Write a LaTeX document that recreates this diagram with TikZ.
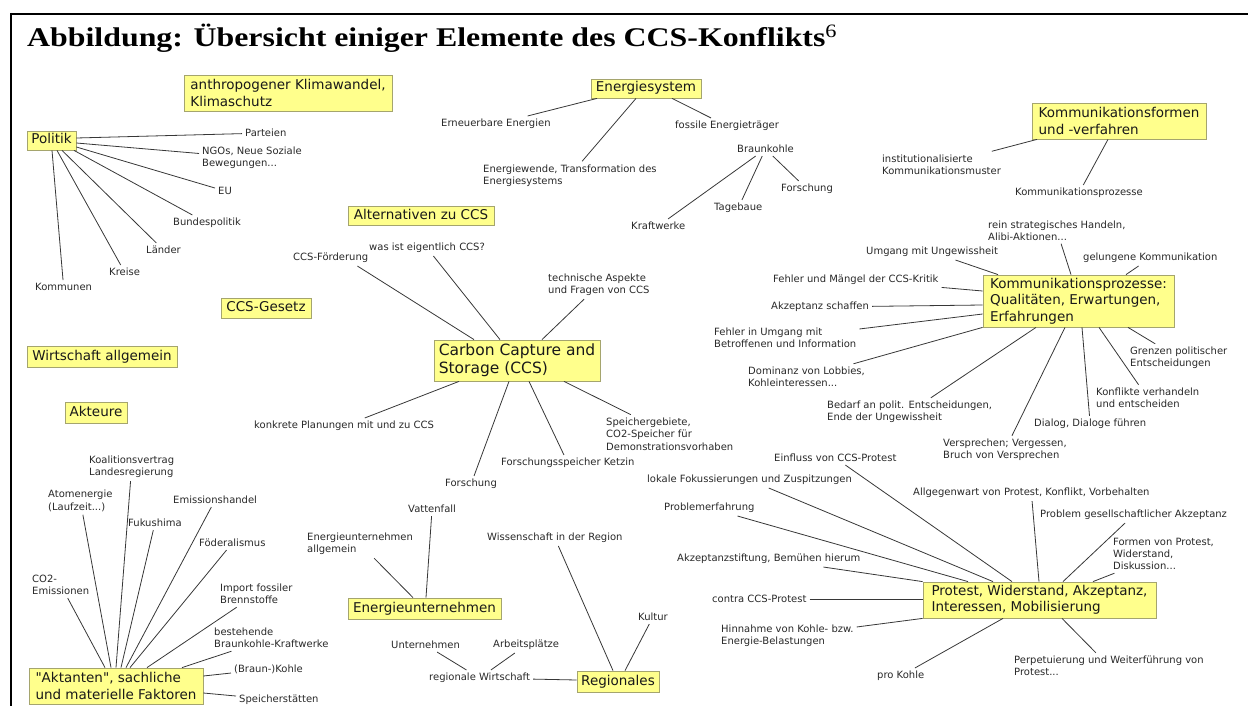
\documentclass[tikz,border=0pt]{standalone}
\usepackage{fontspec}
\setmainfont{Liberation Serif}
\newfontfamily\dvs{DejaVu Sans}
\definecolor{boxfill}{RGB}{255,255,140}
\definecolor{boxline}{RGB}{165,165,110}
\definecolor{ink}{RGB}{40,40,40}
\definecolor{wire}{RGB}{55,55,55}
\tikzset{
 box/.style={draw=boxline, line width=0.8pt, fill=boxfill, inner xsep=2pt, inner ysep=1pt, align=left, text=black!90, font=\dvs\fontsize{13.5}{16.5}\selectfont},
 sbox/.style={box, text height=10pt, text depth=3pt},
 lbl/.style={anchor=west, inner sep=3pt, align=left, text=ink, font=\dvs\fontsize{10}{12.3}\selectfont},
 conn/.style={draw=wire, line width=0.8pt},
 frame/.style={draw=black},
}
\begin{document}
\begin{tikzpicture}[x=1pt,y=-1pt]
\useasboundingbox (0,0) rectangle (1248,706);
% frame
\draw[frame, line width=2.5pt] (11,14) -- (1248,14);
\draw[frame, line width=2pt] (11,12.8) -- (11,706);
% title
\node[anchor=base west, inner sep=0] (title) at (27,47) {\scalebox{1.18}[1]{\fontsize{27}{31}\selectfont\bfseries Abbildung: Übersicht einiger Elemente des CCS-Konflikts\textsuperscript{\normalfont 6}}};

% boxes
\node[box, minimum width=208pt, minimum height=36pt] (klima) at (288,93) {anthropogener Klimawandel,\\Klimaschutz};
\node[sbox, minimum width=49pt, minimum height=19pt] (politik) at (51.5,140.5) {Politik};
\node[sbox, minimum width=110pt, minimum height=19pt] (energie) at (646,88.5) {Energiesystem};
\node[box, minimum width=174pt, minimum height=36pt] (kform) at (1119,121) {Kommunikationsformen\\und -verfahren};
\node[sbox, minimum width=146pt, minimum height=19pt] (altern) at (421,215.5) {Alternativen zu CCS};
\node[sbox, minimum width=90pt, minimum height=20pt] (gesetz) at (266,308) {CCS-Gesetz};
\node[sbox, minimum width=150pt, minimum height=21pt] (wirtsch) at (102,356.5) {Wirtschaft allgemein};
\node[sbox, minimum width=62pt, minimum height=21pt] (akteure) at (96,412.5) {Akteure};
\node[box, minimum width=166pt, minimum height=41pt, font=\dvs\fontsize{15.5}{18}\selectfont] (ccs) at (517,360.5) {Carbon Capture and\\Storage (CCS)};
\node[box, minimum width=191pt, minimum height=52pt] (kproz) at (1078.5,301) {Kommunikationsprozesse:\\Qualitäten, Erwartungen,\\Erfahrungen};
\node[sbox, minimum width=153pt, minimum height=21pt] (eunt) at (424.5,608.5) {Energieunternehmen};
\node[sbox, minimum width=82pt, minimum height=21pt] (reg) at (618,681.5) {Regionales};
\node[box, minimum width=233pt, minimum height=36pt] (protest) at (1039.5,600) {Protest, Widerstand, Akzeptanz,\\Interessen, Mobilisierung};
\node[box, minimum width=174pt, minimum height=36pt] (akt) at (116,686) {"Aktanten", sachliche\\und materielle Faktoren};

% labels: Politik
\node[lbl] (parteien) at (242,133) {Parteien};
\node[lbl] (ngos) at (199,158) {NGOs, Neue Soziale\\Bewegungen...};
\node[lbl] (eu) at (215,191) {EU};
\node[lbl] (bundes) at (170,223) {Bundespolitik};
\node[lbl] (laender) at (143,250) {Länder};
\node[lbl] (kreise) at (106,272) {Kreise};
\node[lbl] (kommunen) at (32,287) {Kommunen};
% Energiesystem
\node[lbl] (erneuerbar) at (438,124) {Erneuerbare Energien};
\node[lbl] (wende) at (480,175.5) {Energiewende, Transformation des\\Energiesystems};
\node[lbl] (fossile) at (672,126) {fossile Energieträger};
\node[lbl] (braunkohle) at (734,149) {Braunkohle};
\node[lbl] (forschbk) at (778,189) {Forschung};
\node[lbl] (tagebaue) at (711,208) {Tagebaue};
\node[lbl] (kraftwerke) at (628,226) {Kraftwerke};
% CCS
\node[lbl] (ccsfoerd) at (290,258) {CCS-Förderung};
\node[lbl] (wasist) at (366,248) {was ist eigentlich CCS?};
\node[lbl] (technisch) at (545,285) {technische Aspekte\\und Fragen von CCS};
\node[lbl] (konkret) at (251,426) {konkrete Planungen mit und zu CCS};
\node[lbl] (forschung) at (442,484) {Forschung};
\node[lbl] (ketzin) at (498,463) {Forschungsspeicher Ketzin};
\node[lbl] (speicher) at (603,434) {Speichergebiete,\\CO2-Speicher für\\Demonstrationsvorhaben};
% Kommunikationsformen
\node[lbl] (institut) at (879,164.5) {institutionalisierte\\Kommunikationsmuster};
\node[lbl] (kpsmall) at (1012,193) {Kommunikationsprozesse};
% Kommunikationsprozesse
\node[lbl] (rein) at (985,230.5) {rein strategisches Handeln,\\Alibi-Aktionen...};
\node[lbl] (gelungen) at (1080,258) {gelungene Kommunikation};
\node[lbl] (umgang) at (863,252) {Umgang mit Ungewissheit};
\node[lbl] (fehlerkritik) at (770,280) {Fehler und Mängel der CCS-Kritik};
\node[lbl] (akzschaffen) at (768,307) {Akzeptanz schaffen};
\node[lbl] (fehlerumgang) at (711,338) {Fehler in Umgang mit\\Betroffenen und Information};
\node[lbl] (dominanz) at (745,377) {Dominanz von Lobbies,\\Kohleinteressen...};
\node[lbl] (bedarf) at (824,412) {Bedarf an polit. Entscheidungen,\\Ende der Ungewissheit};
\node[lbl] (versprechen) at (940,450) {Versprechen; Vergessen,\\Bruch von Versprechen};
\node[lbl] (dialog) at (1031,424) {Dialog, Dialoge führen};
\node[lbl] (konflikte) at (1093,398) {Konflikte verhandeln\\und entscheiden};
\node[lbl] (grenzen) at (1127,358) {Grenzen politischer\\Entscheidungen};
% Protest
\node[lbl] (einfluss) at (771,458) {Einfluss von CCS-Protest};
\node[lbl] (lokale) at (644,480) {lokale Fokussierungen und Zuspitzungen};
\node[lbl] (problemerf) at (661,508) {Problemerfahrung};
\node[lbl] (akzstiftung) at (674,559) {Akzeptanzstiftung, Bemühen hierum};
\node[lbl] (contra) at (709,599) {contra CCS-Protest};
\node[lbl] (hinnahme) at (718,636) {Hinnahme von Kohle- bzw.\\Energie-Belastungen};
\node[lbl] (prokohle) at (874,676) {pro Kohle};
\node[lbl] (perpet) at (1011,666) {Perpetuierung und Weiterführung von\\Protest...};
\node[lbl] (formen) at (1110,554) {Formen von Protest,\\Widerstand,\\Diskussion...};
\node[lbl] (problemges) at (1037,515) {Problem gesellschaftlicher Akzeptanz};
\node[lbl] (allgegenwart) at (910,493) {Allgegenwart von Protest, Konflikt, Vorbehalten};
% Energieunternehmen
\node[lbl] (vattenfall) at (405,509) {Vattenfall};
\node[lbl] (euallg) at (304,544) {Energieunternehmen\\allgemein};
% Regionales
\node[lbl] (wissenschaft) at (484,538) {Wissenschaft in der Region};
\node[lbl] (kultur) at (635,617) {Kultur};
\node[lbl] (regwirt) at (426,678) {regionale Wirtschaft};
\node[lbl] (unternehmen) at (388,645) {Unternehmen};
\node[lbl] (arbeitsplaetze) at (490,645) {Arbeitsplätze};
% Aktanten
\node[lbl] (koalition) at (86,467) {Koalitionsvertrag\\Landesregierung};
\node[lbl] (atom) at (45,501) {Atomenergie\\(Laufzeit...)};
\node[lbl] (fukushima) at (125,523) {Fukushima};
\node[lbl] (emission) at (170,500) {Emissionshandel};
\node[lbl] (foederal) at (196,543) {Föderalismus};
\node[lbl] (co2) at (29,585) {CO2-\\Emissionen};
\node[lbl] (import) at (217,594) {Import fossiler\\Brennstoffe};
\node[lbl] (bestehend) at (211,638) {bestehende\\Braunkohle-Kraftwerke};
\node[lbl] (braunk2) at (231,669) {(Braun-)Kohle};
\node[lbl] (speicherst) at (236,700) {Speicherstätten};

% connectors: Politik
\draw[conn] (parteien) -- (politik.east |- 0,138);
\draw[conn] (ngos) -- (politik.east |- 0,143);
\draw[conn] (eu) -- (politik.east |- 0,147);
\draw[conn] (bundes) -- (politik.south -| 74,0);
\draw[conn] (laender) -- (politik.south -| 62,0);
\draw[conn] (kreise) -- (politik.south -| 57,0);
\draw[conn] (kommunen) -- (politik.south -| 52,0);
% Energiesystem
\draw[conn] (erneuerbar) -- (energie.south -| 597,0);
\draw[conn] (wende) -- (energie.south -| 636,0);
\draw[conn] (fossile) -- (energie.south -| 672,0);
\draw[conn] (braunkohle) -- (kraftwerke);
\draw[conn] (braunkohle) -- (tagebaue);
\draw[conn] (braunkohle) -- (forschbk);
% Kommunikationsformen
\draw[conn] (institut) -- (kform.south -| 1037,0);
\draw[conn] (kpsmall) -- (kform.south -| 1108,0);
% CCS
\draw[conn] ([xshift=-14pt]ccsfoerd.south east) -- (ccs.north -| 474,0);
\draw[conn] (wasist) -- (ccs.north -| 500,0);
\draw[conn] (technisch) -- (ccs.north -| 542,0);
\draw[conn] (konkret) -- (ccs.south -| 459,0);
\draw[conn] (forschung) -- (ccs.south -| 509,0);
\draw[conn] (ketzin) -- (ccs.south -| 529,0);
\draw[conn] (speicher) -- (ccs.south -| 564,0);
% Kommunikationsprozesse
\draw[conn] (rein) -- (kproz.north -| 1071,0);
\draw[conn] (gelungen) -- (kproz.north -| 1126,0);
\draw[conn] (umgang) -- (kproz.north -| 998,0);
\draw[conn] (fehlerkritik) -- (kproz.west |- 0,291);
\draw[conn] (akzschaffen) -- (kproz.west |- 0,305);
\draw[conn] (fehlerumgang) -- (kproz.west |- 0,314);
\draw[conn] (dominanz) -- (kproz.south west);
\draw[conn] (bedarf) -- (kproz.south -| 1036,0);
\draw[conn] (versprechen) -- (kproz.south -| 1065,0);
\draw[conn] (dialog) -- (kproz.south -| 1082,0);
\draw[conn] (konflikte) -- (kproz.south -| 1099,0);
\draw[conn] (grenzen) -- (kproz.south -| 1128,0);
% Protest
\draw[conn] (einfluss) -- (protest.north -| 1012,0);
\draw[conn] (lokale) -- (protest.north -| 993,0);
\draw[conn] (problemerf) -- (protest.north -| 968,0);
\draw[conn] (akzstiftung) -- (protest.north west);
\draw[conn] (contra) -- (protest.west |- 0,599);
\draw[conn] (hinnahme) -- (protest.south west);
\draw[conn] (prokohle) -- (protest.south -| 1003,0);
\draw[conn] (perpet) -- (protest.south -| 1062,0);
\draw[conn] (formen) -- (protest.north -| 1093,0);
\draw[conn] (problemges) -- (protest.north -| 1063,0);
\draw[conn] (allgegenwart) -- (protest.north -| 1039,0);
% Energieunternehmen
\draw[conn] (vattenfall) -- (eunt.north -| 426,0);
\draw[conn] (euallg) -- (eunt.north -| 413,0);
% Regionales
\draw[conn] (wissenschaft) -- (reg.north -| 613,0);
\draw[conn] (kultur) -- (reg.north -| 625,0);
\draw[conn] (regwirt) -- (reg.west |- 0,680);
\draw[conn] (unternehmen) -- (regwirt);
\draw[conn] (arbeitsplaetze) -- (regwirt);
% Aktanten
\draw[conn] (co2) -- (akt.north -| 105,0);
\draw[conn] (atom) -- (akt.north -| 111,0);
\draw[conn] (koalition) -- (akt.north -| 116,0);
\draw[conn] (fukushima) -- (akt.north -| 121,0);
\draw[conn] (emission) -- (akt.north -| 126,0);
\draw[conn] (foederal) -- (akt.north -| 130,0);
\draw[conn] (import) -- (akt.north -| 147,0);
\draw[conn] (bestehend) -- (akt.north -| 182,0);
\draw[conn] (braunk2) -- (akt.east |- 0,676);
\draw[conn] (speicherst) -- (akt.east |- 0,693);
\end{tikzpicture}
\end{document}
